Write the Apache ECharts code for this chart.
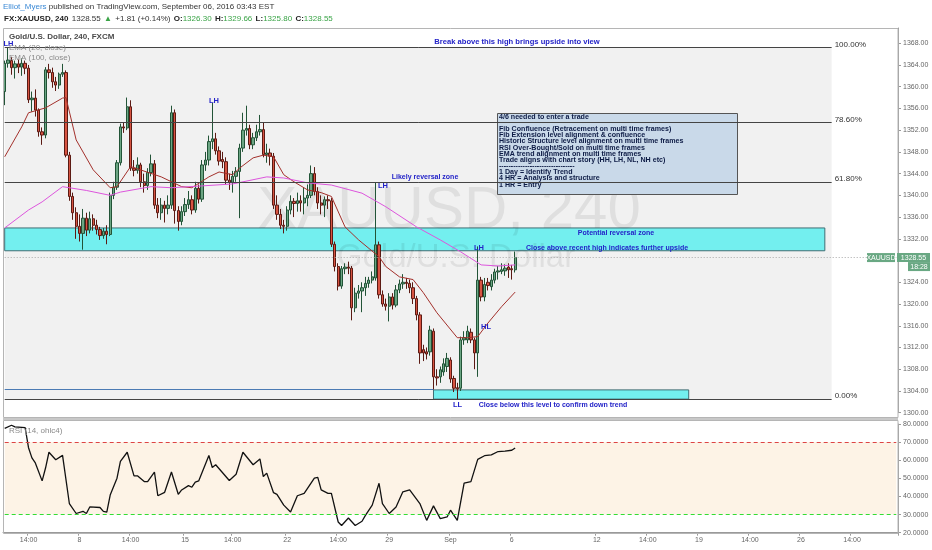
<!DOCTYPE html>
<html><head><meta charset="utf-8">
<script src="https://cdn.jsdelivr.net/npm/echarts@6/dist/echarts.min.js"></script>
<style>html,body{margin:0;padding:0;background:#fff}#c{width:932px;height:550px}</style>
</head><body><div id="c"></div>
<script>
// ---------- data ----------
const opens = [1359.1,1364.3,1364.8,1363.5,1364.2,1363.6,1364.3,1363.4,1357.6,1357.9,
1355.7,1351.7,1351.1,1363.1,1362.6,1360.9,1360.3,1362.3,1362.6,1347.4,
1339.8,1336.8,1334.3,1333.0,1335.8,1333.6,1335.7,1334.5,1333.7,1332.6,
1333.4,1332.8,1340.0,1341.5,1346.0,1352.6,1352.4,1356.3,1345.0,1344.6,
1345.6,1342.5,1341.8,1344.2,1345.8,1338.2,1336.8,1338.2,1337.6,1338.2,
1355.2,1337.2,1335.2,1337.0,1338.3,1339.2,1337.3,1341.3,1339.3,1345.6,
1346.5,1349.9,1350.4,1348.2,1346.6,1346.2,1342.8,1342.4,1343.5,1344.4,
1348.7,1352.0,1352.3,1349.3,1350.6,1351.7,1352.1,1347.5,1347.8,1347.2,
1338.2,1336.5,1334.5,1334.3,1337.3,1338.9,1338.5,1339.0,1338.6,1339.5,
1340.0,1344.0,1340.7,1338.6,1338.2,1339.2,1339.0,1331.0,1326.9,1323.3,
1326.5,1326.8,1326.6,1319.3,1322.0,1322.4,1323.0,1323.8,1324.4,1324.8,
1330.9,1321.7,1320.0,1319.6,1321.3,1319.8,1322.6,1323.7,1324.0,1323.8,
1323.0,1321.0,1318.0,1311.6,1311.2,1311.2,1315.0,1306.6,1306.6,1307.5,
1308.5,1309.7,1306.3,1304.6,1304.5,1313.4,1313.4,1314.8,1313.4,1311.0,
1324.4,1321.3,1324.0,1323.2,1324.4,1325.9,1326.0,1326.1,1326.8,1326.5,
1326.3];
const closes = [1364.3,1364.9,1363.5,1364.2,1363.6,1364.3,1363.4,1357.6,1357.9,1355.7,
1351.7,1351.1,1363.1,1362.6,1360.9,1360.3,1362.3,1362.6,1347.4,1339.8,
1336.8,1334.3,1333.0,1335.8,1333.6,1335.7,1334.5,1333.7,1332.6,1333.4,
1332.8,1340.0,1341.5,1346.0,1352.6,1352.4,1356.3,1345.0,1344.6,1345.6,
1342.5,1341.8,1344.2,1345.8,1338.2,1336.8,1338.2,1337.6,1338.2,1355.2,
1337.2,1335.2,1337.0,1338.3,1339.2,1337.3,1341.3,1339.3,1345.6,1346.5,
1349.9,1350.4,1348.2,1346.3,1346.2,1342.8,1342.4,1343.5,1344.4,1348.7,
1352.0,1352.3,1349.3,1350.6,1351.7,1352.1,1347.5,1347.8,1347.2,1338.2,
1336.5,1334.5,1334.3,1337.3,1338.9,1338.5,1339.0,1338.6,1339.5,1340.0,
1344.0,1340.7,1338.6,1338.2,1339.2,1339.0,1331.0,1326.9,1323.3,1326.5,
1326.8,1326.6,1319.3,1322.0,1322.4,1323.0,1323.8,1324.4,1325.0,1330.9,
1321.7,1320.0,1319.6,1321.3,1319.8,1322.6,1323.7,1324.0,1323.8,1323.0,
1321.0,1318.0,1311.0,1311.0,1310.8,1315.2,1306.6,1306.4,1307.9,1309.0,
1310.0,1306.2,1304.5,1304.4,1313.4,1313.8,1315.0,1313.4,1311.0,1324.4,
1321.3,1323.6,1323.4,1324.4,1325.9,1326.1,1326.3,1326.6,1326.3,1326.3,
1328.55];
const highs = [1364.8,1367.2,1365.5,1364.8,1365.0,1365.2,1364.8,1364.0,1359.1,1359.5,
1356.0,1352.5,1363.6,1364.2,1363.5,1361.8,1362.6,1364.2,1363.0,1348.0,
1340.5,1337.8,1336.5,1337.5,1336.8,1337.0,1336.5,1335.5,1334.2,1334.0,
1334.5,1340.5,1342.5,1346.5,1353.2,1353.4,1358.0,1357.5,1346.5,1347.0,
1346.0,1344.0,1345.0,1347.5,1346.5,1339.5,1339.5,1339.0,1340.0,1356.5,
1355.8,1338.0,1338.0,1339.5,1340.8,1340.0,1342.5,1342.0,1346.5,1348.0,
1351.0,1357.0,1351.5,1349.0,1348.0,1347.0,1344.0,1344.5,1345.2,1349.5,
1355.2,1356.5,1353.0,1351.5,1353.0,1354.8,1353.5,1349.5,1348.6,1347.8,
1340.0,1337.5,1335.5,1338.0,1340.0,1339.5,1340.5,1340.0,1341.5,1342.0,
1345.5,1345.2,1341.5,1340.0,1339.8,1340.0,1339.5,1331.5,1327.5,1327.0,
1327.5,1327.8,1327.0,1323.0,1323.5,1324.0,1325.0,1325.0,1326.0,1342.3,
1331.5,1322.5,1321.0,1322.0,1322.0,1323.5,1324.5,1325.5,1324.8,1324.5,
1324.0,1321.5,1318.5,1312.5,1312.0,1316.0,1315.5,1308.0,1308.5,1310.0,
1311.0,1310.2,1306.8,1305.5,1314.0,1315.0,1316.0,1315.5,1313.8,1330.6,
1325.0,1324.8,1324.8,1325.5,1326.5,1327.0,1327.5,1327.3,1327.5,1327.2,
1329.66];
const lows = [1356.6,1363.5,1362.2,1361.5,1362.5,1362.0,1362.3,1357.0,1355.4,1354.5,
1350.8,1349.3,1350.5,1361.5,1359.8,1359.2,1359.6,1361.8,1347.0,1339.0,
1335.5,1332.0,1331.5,1330.0,1332.5,1333.0,1333.5,1332.8,1331.8,1332.0,
1331.0,1332.5,1339.3,1341.0,1345.5,1351.5,1352.0,1344.5,1343.5,1344.0,
1341.5,1340.5,1341.0,1343.5,1337.5,1335.8,1335.5,1335.0,1336.5,1337.5,
1334.8,1333.5,1334.5,1336.2,1337.5,1336.5,1336.8,1338.5,1338.8,1344.5,
1345.5,1348.5,1347.5,1345.5,1345.0,1342.0,1341.0,1340.5,1342.5,1335.8,
1348.0,1351.0,1348.5,1348.5,1350.0,1351.0,1347.0,1346.0,1345.5,1337.5,
1335.5,1333.8,1333.0,1333.5,1336.5,1336.0,1337.0,1337.0,1336.5,1338.0,
1339.5,1340.0,1337.5,1336.5,1336.0,1337.5,1330.5,1326.0,1322.5,1322.8,
1325.5,1325.5,1317.0,1318.5,1321.0,1318.5,1321.5,1323.0,1323.8,1324.3,
1321.0,1319.5,1318.8,1316.8,1319.0,1319.4,1322.0,1322.8,1322.8,1322.0,
1320.0,1317.0,1309.0,1309.5,1309.8,1310.5,1304.2,1305.0,1305.5,1306.8,
1307.5,1305.5,1303.8,1302.5,1304.0,1312.5,1312.8,1312.8,1308.0,1306.6,
1320.5,1320.5,1322.5,1322.5,1323.8,1324.5,1325.5,1325.2,1324.8,1324.5,
1325.8];
// EMA vertices [bar index, value]
const ema20 = [[0,1347.1],[5,1352.6],[7,1355.2],[12,1356.1],[17,1357.9],[18,1358.0],[21,1350.2],[26,1344.7],[31,1341.4],[33,1341.6],[37,1345.3],[46,1343.4],[52,1341.6],[55,1341.4],[60,1343.4],[63,1344.3],[67,1343.8],[69,1345.0],[73,1346.9],[76,1347.4],[79,1347.1],[82,1343.8],[85,1342.5],[89,1341.0],[93,1340.5],[96,1339.8],[100,1334.2],[104,1331.8],[110,1328.7],[112,1326.9],[116,1325.0],[120,1324.5],[123,1322.1],[127,1318.4],[133,1313.8],[136,1313.8],[139,1314.0],[142,1316.5],[146,1319.5],[150,1322.2]];
const ema100 = [[0,1334.0],[7,1337.3],[11,1338.8],[17,1341.6],[24,1340.9],[31,1340.0],[34,1340.6],[43,1341.6],[49,1341.4],[57,1341.7],[67,1342.1],[77,1343.4],[82,1343.2],[89,1342.3],[96,1341.9],[105,1340.4],[112,1337.9],[121,1334.2],[128,1331.8],[134,1329.6],[140,1327.2],[145,1327.0],[150,1327.2]];
const rsi = [[0,77.6],[2,79.3],[3,78.4],[6,78],[7,66.9],[8,61.3],[9,58.5],[11,48.6],[12,55.7],[13,64.4],[15,60.3],[17,62.7],[19,36.1],[21,30.6],[23,31.8],[24,30.6],[25,34.2],[28,33.9],[29,31.8],[30,31.4],[31,40.8],[33,50.1],[34,59.4],[36,64.4],[38,51.4],[39,51.4],[41,48.2],[42,48.2],[44,53.5],[45,40.4],[47,42.3],[49,53.5],[51,41.2],[52,43.6],[54,46],[55,45.1],[56,47.9],[57,48.6],[60,62.6],[61,56],[62,57.5],[66,48.8],[68,52.3],[70,64.4],[73,57.5],[75,60.7],[76,51],[77,52.9],[79,42.1],[80,41.2],[82,35.2],[84,31.4],[86,40.4],[88,41.7],[91,50.1],[92,50.5],[93,43.6],[95,41.7],[96,41.7],[98,25.9],[99,24],[101,28.1],[103,24],[105,26.3],[106,29.6],[108,35.2],[110,47.3],[111,36.1],[113,30.6],[115,34.2],[117,42.6],[119,43.6],[122,36.1],[124,26.8],[126,34.8],[128,27.8],[130,28.7],[131,32.4],[133,26.8],[135,47.3],[137,48.2],[139,60.5],[141,62.5],[143,63],[145,64.8],[147,65],[149,65.5],[150,66.8]];
const tickIndex = [7,22,37,53,67,83,98,113,131,149,174,189,204,219,234,249];
const tickText = ['14:00','8','14:00','15','14:00','22','14:00','29','Sep','6','12','14:00','19','14:00','26','14:00'];
const fibLevels = ['100.00%','78.60%','61.80%','0.00%'];
const fibPrices = [1367.2,1353.4,1342.5,1302.5];
const fibEndIndex = 243;
const upperZone = [1329.8,1334.0]; const upperZoneEnd = 241;
const lowerZone = [1302.5,1304.2]; const lowerZoneStart = 126; const lowerZoneEnd = 201;
const supportLine = 1304.3; const supportEnd = 126;
const rsiBands = [30,70];
const totalBars = 263;
const lastClose = closes[closes.length-1];

// ---------- chart ----------
const chart = echarts.init(document.getElementById('c'));
const cats = Array.from({length: totalBars}, (_, i) => 'b' + i);
const tickMap = {}; tickIndex.forEach((t,k)=>tickMap[t]=tickText[k]);
const FONT = '"Liberation Sans", Arial, sans-serif';
const BLUE = '#2323c8';
const candleData = opens.map((o,i)=>[o, closes[i], lows[i], highs[i]]);

const option = {
  animation:false,
  backgroundColor:'#ffffff',
  textStyle:{fontFamily:FONT},
  grid:[{left:3,right:34,top:28,height:384.7},{left:3,right:34,top:424,height:108.7}],
  xAxis:[
    {type:'category',gridIndex:0,data:cats,axisLine:{show:false},axisTick:{show:false},axisLabel:{show:false},splitLine:{show:false}},
    {type:'category',gridIndex:1,data:cats,axisLine:{show:true,lineStyle:{color:'#9a9a9a'}},
     axisTick:{show:true,interval:(i)=>tickMap[i]!==undefined,length:3,lineStyle:{color:'#9a9a9a'}},
     axisLabel:{interval:(i)=>tickMap[i]!==undefined,formatter:(v,i)=>tickMap[i]||'',fontSize:7,color:'#666',margin:4,fontFamily:FONT},
     splitLine:{show:false}}
  ],
  yAxis:[
    {type:'value',gridIndex:0,position:'right',min:1300,max:1370.8,interval:4,
     axisLine:{show:true,lineStyle:{color:'#9a9a9a'}},axisTick:{show:true,length:3,lineStyle:{color:'#9a9a9a'}},
     axisLabel:{fontSize:7,color:'#666',margin:5,formatter:v=>v.toFixed(2),showMaxLabel:false,fontFamily:FONT},splitLine:{show:false}},
    {type:'value',gridIndex:1,position:'right',min:20,max:80,interval:10,
     axisLine:{show:true,lineStyle:{color:'#9a9a9a'}},axisTick:{show:true,length:3,lineStyle:{color:'#9a9a9a'}},
     axisLabel:{fontSize:7,color:'#666',margin:5,formatter:v=>v.toFixed(4),fontFamily:FONT},splitLine:{show:false}}
  ],
  series:[
    {type:'line',xAxisIndex:0,yAxisIndex:0,data:[],z:1,silent:true,
     markArea:{silent:true,itemStyle:{color:'#f1f1f1'},data:[[{coord:[0,fibPrices[0]]},{coord:[fibEndIndex,fibPrices[3]]}]]}},
    {type:'candlestick',xAxisIndex:0,yAxisIndex:0,data:candleData,z:2,barWidth:'82%',
     itemStyle:{color:'#6ba583',color0:'#d75442',borderColor:'#225437',borderColor0:'#5b1a13',borderWidth:1}},
    {type:'line',xAxisIndex:0,yAxisIndex:0,data:ema20,z:3,symbol:'none',lineStyle:{color:'#a3302b',width:1}},
    {type:'line',xAxisIndex:0,yAxisIndex:0,data:ema100,z:3,symbol:'none',lineStyle:{color:'#dd55dd',width:1}},
    {type:'line',xAxisIndex:0,yAxisIndex:0,data:[],z:4,silent:true,
     markArea:{silent:true,data:[
       [{coord:[0,upperZone[1]],itemStyle:{color:'rgba(0,238,238,0.52)',borderColor:'#3f6e74',borderWidth:1}},{coord:[upperZoneEnd,upperZone[0]]}],
       [{coord:[lowerZoneStart,lowerZone[1]],itemStyle:{color:'rgba(0,238,238,0.52)',borderColor:'#3f6e74',borderWidth:1}},{coord:[lowerZoneEnd,lowerZone[0]]}]
     ]},
     markLine:{silent:true,symbol:['none','none'],animation:false,data:[
       ...fibPrices.map((p,k)=>[{coord:[0,p],name:fibLevels[k]},{coord:[fibEndIndex,p],name:fibLevels[k]}]),
       [{coord:[0,supportLine],name:'',lineStyle:{color:'#4b7ab3',width:1,type:'solid'},label:{show:false}},{coord:[supportEnd,supportLine]}],
       [{coord:[0,lastClose],name:'',lineStyle:{color:'#a8a8a8',width:1,type:[1,2]},label:{show:false}},{coord:[totalBars-1,lastClose]}]
     ],
     lineStyle:{color:'#444',width:1,type:'solid'},
     label:{show:true,position:'end',formatter:'{b}',color:'#333',fontSize:8,distance:3,offset:[0,-3],fontFamily:FONT}}},
    {type:'line',xAxisIndex:1,yAxisIndex:1,data:[],z:1,silent:true,
     markArea:{silent:true,itemStyle:{color:'#fdf3e6'},data:[[{coord:[0,rsiBands[1]]},{coord:[totalBars-1,rsiBands[0]]}]]},
     markLine:{silent:true,symbol:['none','none'],label:{show:false},data:[
       [{coord:[0,rsiBands[1]],lineStyle:{color:'#dd4444',type:[4,3],width:1}},{coord:[totalBars-1,rsiBands[1]]}],
       [{coord:[0,rsiBands[0]],lineStyle:{color:'#33dd33',type:[4,3],width:1}},{coord:[totalBars-1,rsiBands[0]]}]
     ]}},
    {type:'line',xAxisIndex:1,yAxisIndex:1,data:rsi,z:3,symbol:'none',lineStyle:{color:'#111',width:1.3}}
  ]
};
chart.setOption(option);

function T(x,y,text,o){
  o=o||{};
  return {type:'text',x:x,y:y,z:o.z||20,silent:true,style:{text:text,fill:o.fill||BLUE,fontSize:o.size||7,fontWeight:o.weight||'bold',fontFamily:FONT,
    align:o.align||'center',verticalAlign:'middle',textAlign:o.align||'center',textVerticalAlign:'middle',rich:o.rich}};
}
const py = chart.convertToPixel({yAxisIndex:0}, lastClose);
const boxLines = ['Fib Confluence (Retracement on multi time frames)','Fib Extension level alignment & confluence','Historic Structure level alignment on multi time frames','RSI Over-Bought/Sold on multi time frames','EMA trend alignment on multi time frames','Trade aligns with chart story (HH, LH, NL, NH etc)','--------------------------------','1 Day = Identify Trend','4 HR = Analysis and structure','1 HR = Entry'];
const boxY = [129.3,135.3,141.3,147.7,154,160,165.7,172.3,178.3,185];
const g = [
  // pane frames
  {type:'rect',z:30,silent:true,shape:{x:3.5,y:28.5,width:894.5,height:389},style:{fill:'none',stroke:'#b5b5b5',lineWidth:1}},
  {type:'rect',z:30,silent:true,shape:{x:3.5,y:420.5,width:894.5,height:113},style:{fill:'none',stroke:'#b5b5b5',lineWidth:1}},
  {type:'rect',z:30,silent:true,shape:{x:3,y:418,width:895,height:2},style:{fill:'#c8c8c8'}},
  // watermark
  T(449,211,'XAUUSD, 240',{fill:'rgba(0,0,0,0.075)',size:60,weight:'normal',z:1.5}),
  T(456,258,'Gold/U.S. Dollar',{fill:'rgba(0,0,0,0.075)',size:33,weight:'normal',z:1.5}),
  // header
  {type:'text',x:3,y:7,z:30,silent:true,style:{text:'{a|Elliot_Myers}{b| published on TradingView.com, September 06, 2016 03:43 EST}',verticalAlign:'middle',textVerticalAlign:'middle',
    rich:{a:{fill:'#3c8ad6',fontSize:8,fontFamily:FONT},b:{fill:'#333',fontSize:8,fontFamily:FONT}}}},
  {type:'text',x:4,y:19,z:30,silent:true,style:{text:'{k|FX:XAUUSD, 240} {n|1328.55} {g|▲} {n|+1.81 (+0.14%)} {k|O:}{g|1326.30} {k|H:}{g|1329.66} {k|L:}{g|1325.80} {k|C:}{g|1328.55}',verticalAlign:'middle',textVerticalAlign:'middle',
    rich:{k:{fill:'#222',fontSize:8,fontWeight:'bold',fontFamily:FONT},n:{fill:'#333',fontSize:8,fontFamily:FONT},g:{fill:'#3aa447',fontSize:8,fontFamily:FONT}}}},
  T(9,37,'Gold/U.S. Dollar, 240, FXCM',{fill:'#4a4a4a',size:8,align:'left',z:30}),
  T(9,48,'EMA (20, close)',{fill:'#8a8a8a',size:8,weight:'normal',align:'left',z:30}),
  T(9,58,'EMA (100, close)',{fill:'#8a8a8a',size:8,weight:'normal',align:'left',z:30}),
  T(9,431,'RSI (14, ohlc4)',{fill:'#8a8a8a',size:8,weight:'normal',align:'left',z:30}),
  // annotations
  T(517,42,'Break above this high brings upside into view',{size:7.6}),
  T(425,177,'Likely reversal zone'),
  T(8.5,44,'LH',{size:7.5}),
  T(214,101,'LH',{size:7.5}),
  T(383,186,'LH',{size:7.5}),
  T(616,233,'Potential reversal zone'),
  T(479,248,'LH',{size:7.5}),
  T(607,248,'Close above recent high indicates further upside'),
  T(486,327,'HL',{size:7.5}),
  T(457.5,405,'LL',{size:7.5}),
  T(553,405,'Close below this level to confirm down trend'),
  // text box
  {type:'rect',z:1.6,silent:true,shape:{x:497.5,y:113.5,width:240,height:81},style:{fill:'#c9d9e9',stroke:'#555',lineWidth:1}},
  T(499,117.3,'4/6 needed to enter a trade',{fill:'#0d1b45',align:'left',z:1.7,size:7.1}),
  ...boxLines.map((s,k)=>T(499,boxY[k],s,{fill:'#0d1b45',align:'left',z:1.7,size:7.1})),
  // price labels
  {type:'rect',z:30,silent:true,shape:{x:867,y:py-4.5,width:28,height:9},style:{fill:'#69a883'}},
  T(881,py,'XAUUSD',{fill:'#fff',size:7,weight:'normal',z:31}),
  {type:'rect',z:30,silent:true,shape:{x:897,y:py-4.5,width:33,height:9},style:{fill:'#69a883'}},
  T(913.5,py,lastClose.toFixed(2),{fill:'#fff',size:7,weight:'normal',z:31}),
  {type:'rect',z:30,silent:true,shape:{x:908,y:py+4.5,width:22,height:9},style:{fill:'#69a883'}},
  T(919,py+9,'18:28',{fill:'#fff',size:7,weight:'normal',z:31})
];
chart.setOption({graphic:g});
</script></body></html>
